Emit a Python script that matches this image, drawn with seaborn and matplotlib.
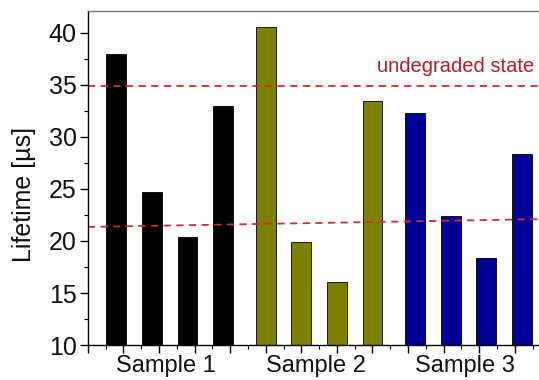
import pandas as pd
import numpy as np
import matplotlib.pyplot as plt
import seaborn as sns
from matplotlib.ticker import MultipleLocator, NullFormatter

# data
samples = ['Sample 1', 'Sample 2', 'Sample 3']
sample1 = [38.0, 24.7, 20.4, 33.0]
sample2 = [40.6, 19.9, 16.1, 33.5]
sample3 = [32.3, 22.4, 18.4, 28.4]
undegraded = 34.9
lower_x = [0, 12.7]
lower_y = [21.35, 22.1]
colors = ['#000000', '#7f7f00', '#000096']

sns.set_theme(style='white')
plt.rcParams['font.family'] = ['Liberation Sans', 'DejaVu Sans']
plt.rcParams['text.color'] = '#111111'

rows = []
for g, (name, vals) in enumerate(zip(samples, [sample1, sample2, sample3])):
    for i, v in enumerate(vals):
        rows.append({'sample': name, 'pos': 0.8 + 4.2 * g + i, 'lifetime': v})
df = pd.DataFrame(rows)

fig = plt.figure(figsize=(5.39, 3.80), dpi=100)
ax = fig.add_axes([0.163, 0.092, 0.837, 0.879])

sns.barplot(data=df, x='pos', y='lifetime', hue='sample', palette=colors,
            native_scale=True, width=0.56, dodge=False, legend=False,
            saturation=1, edgecolor='black', linewidth=0.6, ax=ax)

# dashed reference lines
ax.axhline(undegraded, color='#d42a2a', linestyle=(0, (4, 3)), linewidth=1.3)
ax.plot(lower_x, lower_y, color='#c8303a', linestyle=(0, (4, 3)), linewidth=1.3)
ax.text(12.55, undegraded + 1.0, 'undegraded state', color='#b81c28',
        fontsize=14.5, ha='right', va='bottom')

ax.set_xlim(0, 12.68)
ax.set_ylim(10, 42.1)
ax.yaxis.set_major_locator(MultipleLocator(5))
ax.yaxis.set_minor_locator(MultipleLocator(2.5))
ax.xaxis.set_major_locator(MultipleLocator(1))
ax.xaxis.set_minor_locator(MultipleLocator(0.5))
ax.xaxis.set_major_formatter(NullFormatter())
ax.tick_params(axis='both', which='major', direction='out', length=6, width=1,
               color='black', labelcolor='#111111', bottom=True, left=True,
               labelsize=18, pad=2)
ax.tick_params(axis='both', which='minor', direction='out', length=3, width=0.8,
               color='black', bottom=True, left=True)
ax.set_xlabel('')
ax.set_ylabel('Lifetime [µs]', fontsize=18, color='#111111')
ax.yaxis.set_label_coords(-0.115, 0.45)

for name in samples:
    c = df.loc[df['sample'] == name, 'pos'].mean() - 0.1
    ax.text(c, -0.03, name, transform=ax.get_xaxis_transform(),
            ha='center', va='top', fontsize=17)

for s in ['left', 'bottom']:
    ax.spines[s].set_color('black')
    ax.spines[s].set_linewidth(1)
ax.spines['top'].set_color('#777777')
ax.spines['top'].set_linewidth(1)
ax.spines['right'].set_visible(False)

fig.savefig('out.png', dpi=100)
